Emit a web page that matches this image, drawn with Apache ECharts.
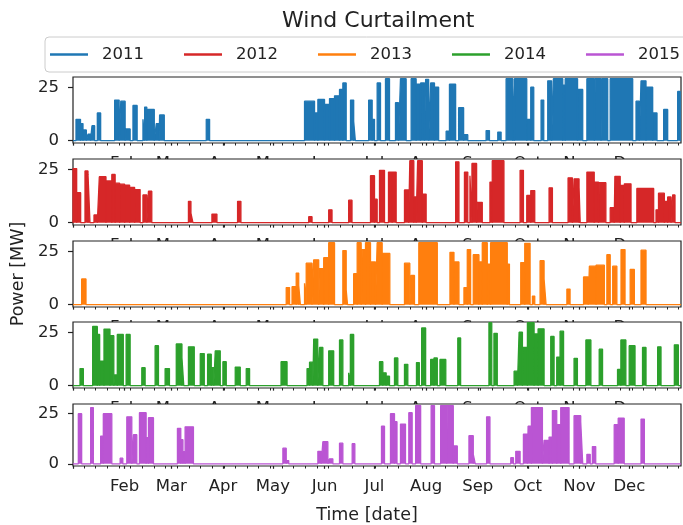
<!DOCTYPE html>
<html><head><meta charset="utf-8">
<script src="https://cdn.jsdelivr.net/npm/echarts@6/dist/echarts.min.js"></script>
<style>html,body{margin:0;padding:0;background:#fff}#c{width:683px;height:525px}</style>
</head><body><div id="c"></div>
<script>
const YEARS = ['2011', '2012', '2013', '2014', '2015'];
const COLORS = ['#1f77b4', '#d62728', '#ff7f0e', '#2ca02c', '#ba55d3'];
const MONTH_START = [31, 59, 90, 120, 151, 181, 212, 243, 273, 304, 334];
const MONTH_LABELS = ['Feb', 'Mar', 'Apr', 'May', 'Jun', 'Jul', 'Aug', 'Sep', 'Oct', 'Nov', 'Dec'];
const Y_TICKS = [0, 25];

// curtailment blocks: [start day, end day, MW]
const s2011 = [
[1.8,4.5,10],[4.5,6,8],[6,8,5],[9,10.5,3],[11.4,13,7],[14.6,16.6,13],
[25,27.7,19],[28.7,31.3,18.5],[31.7,34.3,5.5],[36,38.5,16.5],[42,43,10],[43,44.3,15.7],[44.3,48.8,14.6],[50,51.7,8],[52,54.8,12],
[80,82,10],
[139,145,18.5],[145,147,13],[147,151,19.3],[151,154,17],[154,157,19.7],[157,160,21],[160,162,24],[162,164,27],
[166.6,168.5,19],[168.5,169.5,9],
[177.5,179.6,19],[179.6,181,10],[182.6,184.6,27],[187.6,190,29],[193.6,195.4,17.8],[196.6,200,29],
[203,206,29],[206,208.6,26.4],[208.7,211,27],[211.7,213.5,28.7],[214.7,217,27],[217,219.5,25],
[224,226,4.4],[226,229.7,26.4],[231.5,234.5,15.4],[235,237,2.8],[248,250,4.7],[255,257,4],
[260,264,29],[264,265,26],[265,272.4,29],[272.4,274.8,10],[274.8,276.6,25],[281,282.6,19],[285,287.3,28],
[288.4,294,29],[294,295.5,26],[295.5,302.9,29],[303,306,24],
[308.5,313,29],[313.5,317,29],[317.5,321,29],[322.5,336,29],
[338,340,18.5],[341,344,28],[344,348,25],[348,350.6,13],[354.6,357,14.6],[363,364.5,23]
];
const s2012 = [
[0,2.2,25.3],[2.2,4.6,14],[7.2,9,24.2],[9,10.2,22.6],[12.6,14.6,3.6],[15.8,19.8,21.5],[19.8,23.3,19.5],[23.3,25.3,22.6],
[25.3,28,18.5],[28,31,18],[31,34,17.5],[34,37,16.5],[37,40.3,15.5],[42,44.3,13],[45.3,47.3,14.7],
[69.3,70.8,10],[70.8,72,4.4],[83.4,86.4,4],[98.8,100.8,10],[141.5,143.5,2.8],[153.5,155.5,6],[165.5,167.5,10.5],
[178.6,181,22],[181,182.6,11],[184,187,24.5],[189.4,191.6,23.7],[191.6,194,23.7],
[199,201.5,15.3],[202.2,204.6,29],[204.6,206,12],[206.9,209.7,29],[209.7,212,13.4],
[229.7,231.7,28.5],[235,237,23.7],[238.3,239.5,22],[239.5,242.3,27.7],[242.7,245.7,9.5],
[250.3,251.7,19],[251.7,258.7,29],
[268.4,270.4,24.5],[272.4,274.8,12.7],[274.8,277.2,15],[285.8,287.8,16.3],
[297.2,299.8,21],[300.8,303.8,20.5],[303.8,304.5,16.6],[308.5,312.9,23.7],[312.9,315.5,19],[315.9,319.9,18.7],
[322.5,324.9,7],[325.3,328.5,21.7],[328.5,331,17.4],[331,335,18.2],
[338.5,348.6,16],[350,351.5,6],[351.5,355,13.8],[355,357,10],[357,359,12],[360,361.4,13]
];
const s2013 = [
[5.2,7.8,12],[128,130,8],[131.5,134,8.4],[134,135.5,14.8],[135.5,136.5,9],[139,140,10],[140,143.5,19.4],[144.5,147.5,21],[148,150.5,16.8],[150.5,153.5,22],[153.5,157,29],
[162,164,25.3],[164,164.8,7],
[168.5,170.6,14.5],[170.6,173,29],[173.6,175.6,25.8],[175.6,178.6,29],[178.6,181.6,20],[182.6,185.6,29],[185.6,190.2,24],
[199,202.2,19.4],[203,205,13.7],[207.6,218.7,29],
[226.3,228.7,24.5],[228.7,231.7,20],[234.7,236.7,8],[236.7,238.7,25.8],[240.3,243.7,23.4],[243.7,245.7,20],[245.7,248.7,29],[248.7,250.7,19],[250.7,260.7,29],[260.7,262,19],
[268.8,271.2,19.7],[271.2,274.4,28.7],[275.8,277.2,4],[280.4,282.8,20.6],[282.8,284,12],
[296.5,298.4,7.3],[306.5,309.3,13],[310,314,18],[314,319,18.5],[320.5,322.5,23.4],[324,326.5,18],[329,331.4,25.8],[334.5,337,16.5],[341,344,25.5]
];
const s2014 = [
[4.2,6.2,8],[11.8,14.6,27.7],[14.6,16,24],[16,18.6,11.5],[18.6,22.2,26.5],[22.2,24.5,23.4],[25,26.6,5],[26.6,30.2,24],[31.9,34.3,24],
[41.3,43.3,8.4],[49.3,51.3,18.7],[55.3,57.9,8],[62,65.4,19.5],[65.4,66.5,13],[69.3,72.8,18.2],[76.4,78.8,15],[80.8,83,14.7],[83,84.5,8.4],[85.4,88.4,16.3],[90,92,11.2],[97.4,100.4,8.7],[104,106,8],
[124.9,128.5,11.2],[140.5,142,8],[142,144,11],[144.5,146.9,21.8],[148,150,17.9],[153.5,156.5,16.3],[160,162,21.4],[165.5,166.5,6],[166.5,168.5,24],
[184,186,11.2],[186,188,6],[188.5,190,4.4],[193,195,13],[199,201,10],[206.2,207.9,10.8],[209.3,211.7,27],[214.7,216.7,12.3],[216.7,218.7,13],[220.3,223.8,12.3],
[231,232.7,22.3],[249.7,251.4,29.5],[252.7,254.7,24.5],[264.8,266.8,6.8],[267.8,269.8,25],[269.8,272.8,17.9],[272.8,276.8,29.5],[276.8,279.2,24.2],[279.2,282.8,26.6],
[286.8,288.8,23],[290.4,292.4,13.4],[292.4,294.5,25.5],[300.8,302.8,12.8],[307.9,310.9,21.4],[315.9,317.9,17.1],[326.9,328.9,7.6],[328.9,331.9,21.4],[333.9,337.4,18.7],[341.9,344,17.9],[351,353,18.2],[361,363.4,19.1]
];
const s2015 = [
[3.2,5.2,25],[10.6,12.2,28],[16.6,18.2,13.8],[18.2,23.3,25],[28.3,29.9,2.8],[32.3,35.3,23.4],[36.3,38.3,14.5],[39.9,43.9,25.5],[43.9,45.3,13],[45.3,48.3,23],
[62.7,64.7,17.7],[64.7,66,12],[66,67.3,6],[67.3,72.3,18.4],
[126,128,7.8],[128,129.5,1.6],[147,149,6.2],[150,153,11],[154,156,2.5],[160,162,10.3],[167.6,169.2,10],
[185.2,187,18.7],[190.6,193,25],[193,194.5,21],[196.6,199.6,19.8],[201.6,203.6,25.5],[205.7,208.7,29],[215,217,29],[220.7,224.3,29],[224.7,228.3,29],[228.7,230.7,8.9],
[237.7,240.3,14],[240.3,241.5,4.7],[248.3,250.3,23.4],
[262.8,264.4,3],[265.8,268.4,6.2],[270.4,272.8,14.8],[273.2,275.2,18.7],[275.2,281.8,28],[282.8,285.8,11.7],[285.8,287.8,13.3],[287.8,290.4,26.5],[290.4,292.8,19.5],[292.8,297.8,28],
[300.8,304.8,24],[304.8,306,21],[308.5,310.5,4.7],[311.8,313.8,8.6],[324.9,327.3,19.5],[327.3,330.9,22.7],[341,343,22.3]
];

const SPIKES = [s2011, s2012, s2013, s2014, s2015];

function expand(sp) {
  const pts = [[0, 0]];
  sp.forEach(([s, e, v]) => { pts.push([s, 0], [s, v], [e, v], [e, 0]); });
  pts.push([365, 0]);
  return pts;
}

const FONT = 'DejaVu Sans';
const TXT = '#222';
const TOPS = [77, 159, 241, 322, 404];
const H = 66;
const weekTicks = [];
for (let d = 6.5; d < 365; d += 7) weekTicks.push(d);

const grids = [], xAxes = [], yAxes = [], series = [];
for (let i = 0; i < 5; i++) {
  grids.push({left: 73, right: 2, top: TOPS[i], height: H, show: true, backgroundColor: '#fff',
    borderColor: '#222', borderWidth: 1.2, z: 0});
  xAxes.push({gridIndex: i, type: 'value', min: 0, max: 365, position: 'bottom', z: -1,
    axisLine: {show: false}, splitLine: {show: false},
    axisTick: {show: true, length: 5, lineStyle: {color: '#222', width: 1.2}, customValues: [0].concat(MONTH_START)},
    axisLabel: {show: true, margin: 12, fontFamily: FONT, fontSize: 16.5, color: TXT, customValues: MONTH_START,
      formatter: v => { const k = MONTH_START.indexOf(Math.round(v)); return k >= 0 ? MONTH_LABELS[k] : ''; }},
    name: i === 4 ? 'Time [date]' : '', nameLocation: 'middle', nameGap: 40,
    nameTextStyle: {fontFamily: FONT, fontSize: 17.5, color: TXT, padding: [0, 20, 0, 0]}
  });
  xAxes.push({gridIndex: i, type: 'value', min: 0, max: 365, position: 'bottom', z: -1,
    axisLine: {show: false}, splitLine: {show: false}, axisLabel: {show: false},
    axisTick: {show: true, length: 2.5, lineStyle: {color: '#222', width: 1}, customValues: weekTicks}
  });
  yAxes.push({gridIndex: i, type: 'value', min: -1.1, max: 29.8,
    axisLine: {show: false}, splitLine: {show: false},
    axisTick: {show: true, length: 5, lineStyle: {color: '#222', width: 1.2}, customValues: Y_TICKS},
    axisLabel: {margin: 14, fontFamily: FONT, fontSize: 16.5, color: TXT, customValues: Y_TICKS},
    name: i === 2 ? 'Power [MW]' : '', nameLocation: 'middle', nameGap: 42,
    nameTextStyle: {fontFamily: FONT, fontSize: 17.5, color: TXT}
  });
  series.push({name: YEARS[i], type: 'line', xAxisIndex: 2 * i, yAxisIndex: i,
    data: expand(SPIKES[i]), showSymbol: false, symbol: 'none', z: 2,
    lineStyle: {width: 1.3, color: COLORS[i]},
    areaStyle: {color: COLORS[i], opacity: 1},
    itemStyle: {color: COLORS[i]}
  });
}

const chart = echarts.init(document.getElementById('c'), null, {renderer: 'canvas'});
chart.setOption({
  animation: false,
  backgroundColor: '#fff',
  title: {text: 'Wind Curtailment', left: 277, top: 5,
    textStyle: {fontFamily: FONT, fontSize: 22, fontWeight: 'normal', color: TXT}},
  legend: {data: YEARS, left: 45, top: 37, width: 660, padding: [9, 10, 9, 5], itemGap: 40,
    itemWidth: 38, itemHeight: 2.5, icon: 'rect',
    borderColor: '#cccccc', borderWidth: 1, borderRadius: 4, backgroundColor: '#fff',
    textStyle: {fontFamily: FONT, fontSize: 16.5, color: TXT, padding: [0, 0, 0, 9]}},
  grid: grids, xAxis: xAxes, yAxis: yAxes, series: series
});
</script></body></html>
